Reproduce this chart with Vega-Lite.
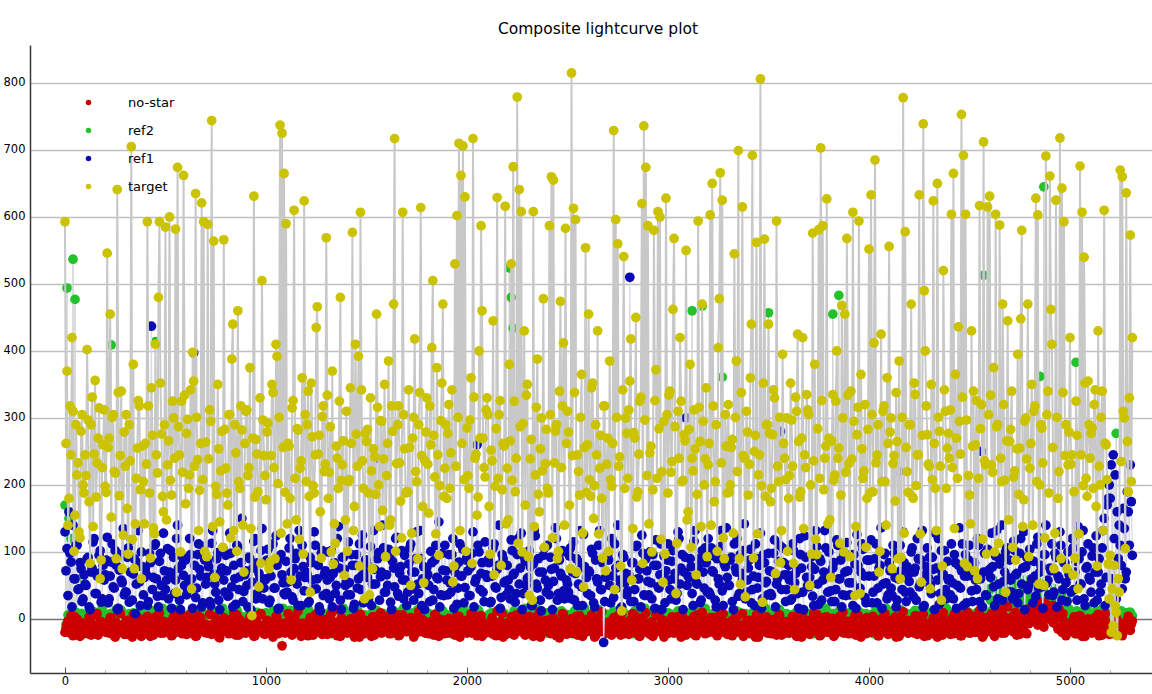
{
  "$schema": "https://vega.github.io/schema/vega-lite/v6.json",
  "width": 1122,
  "height": 628,
  "autosize": {"type": "none"},
  "padding": {"left": 30, "top": 45, "right": 0, "bottom": 21},
  "background": "white",
  "title": {"text": "Composite lightcurve plot", "font": "DejaVu Sans", "fontSize": 15.5, "fontWeight": "normal", "color": "#000", "offset": 8, "dx": 7},
  "data": {"values": [
{"x":0,"n":-20,"g":170,"b":130,"t":593},{"x":10,"n":-8,"g":494,"b":105,"t":370},{"x":20,"n":-15,"g":150,"b":160,"t":180},{"x":30,"n":5,"g":120,"b":85,"t":245},{"x":40,"n":-25,"g":537,"b":140,"t":310},{"x":50,"n":-12,"g":477,"b":60,"t":155},{"x":60,"n":0,"g":60,"b":110,"t":215},{"x":70,"n":-18,"g":5,"b":45,"t":130},{"x":80,"n":-6,"g":8,"b":75,"t":280},{"x":90,"n":-22,"g":-5,"b":30,"t":200},
{"x":100,"n":-10,"g":-3,"b":52,"t":245},{"x":110,"n":-17,"g":-3,"b":90,"t":402},{"x":120,"n":3,"g":5,"b":18,"t":175},{"x":130,"n":-24,"g":6,"b":70,"t":290},{"x":140,"n":-9,"g":-10,"b":115,"t":138},{"x":150,"n":-14,"g":10,"b":38,"t":356},{"x":160,"n":8,"g":2,"b":64,"t":233},{"x":170,"n":-19,"g":-1,"b":95,"t":315},{"x":180,"n":-4,"g":-6,"b":25,"t":88},{"x":190,"n":-12,"g":3,"b":80,"t":260},
{"x":200,"n":-16,"g":5,"b":66,"t":198},{"x":210,"n":-6,"g":0,"b":122,"t":546},{"x":220,"n":-21,"g":7,"b":30,"t":270},{"x":230,"n":2,"g":409,"b":85,"t":152},{"x":240,"n":-13,"g":-5,"b":48,"t":305},{"x":250,"n":-27,"g":-8,"b":102,"t":218},{"x":260,"n":-8,"g":0,"b":14,"t":641},{"x":270,"n":10,"g":3,"b":73,"t":184},{"x":280,"n":-18,"g":13,"b":58,"t":340},{"x":290,"n":-11,"g":-4,"b":135,"t":125},
{"x":300,"n":-9,"g":-2,"b":40,"t":228},{"x":310,"n":-23,"g":1,"b":92,"t":165},{"x":320,"n":-4,"g":8,"b":25,"t":290},{"x":330,"n":-15,"g":-12,"b":118,"t":705},{"x":340,"n":7,"g":9,"b":67,"t":380},{"x":350,"n":-19,"g":4,"b":8,"t":142},{"x":360,"n":-12,"g":-4,"b":84,"t":255},{"x":370,"n":1,"g":-7,"b":55,"t":318},{"x":380,"n":-26,"g":4,"b":100,"t":60},{"x":390,"n":-7,"g":2,"b":36,"t":205},
{"x":400,"n":-14,"g":-2,"b":75,"t":262},{"x":410,"n":4,"g":-6,"b":20,"t":593},{"x":420,"n":-20,"g":6,"b":98,"t":188},{"x":430,"n":-8,"g":0,"b":437,"t":345},{"x":440,"n":-24,"g":9,"b":62,"t":136},{"x":450,"n":-2,"g":414,"b":112,"t":410},{"x":460,"n":-16,"g":-4,"b":34,"t":218},{"x":470,"n":9,"g":2,"b":86,"t":593},{"x":480,"n":-11,"g":6,"b":50,"t":276},{"x":490,"n":-21,"g":-10,"b":128,"t":160},
{"x":500,"n":-5,"g":7,"b":44,"t":585},{"x":510,"n":-18,"g":3,"b":105,"t":230},{"x":520,"n":-10,"g":-8,"b":70,"t":600},{"x":530,"n":-25,"g":-1,"b":16,"t":185},{"x":540,"n":3,"g":11,"b":92,"t":300},{"x":550,"n":-13,"g":-3,"b":58,"t":582},{"x":560,"n":-7,"g":8,"b":140,"t":674},{"x":570,"n":-20,"g":3,"b":28,"t":245},{"x":580,"n":6,"g":-11,"b":80,"t":325},{"x":590,"n":-15,"g":5,"b":65,"t":662},
{"x":600,"n":-12,"g":0,"b":88,"t":172},{"x":610,"n":-22,"g":0,"b":42,"t":298},{"x":620,"n":-1,"g":7,"b":120,"t":215},{"x":630,"n":-17,"g":-9,"b":60,"t":45},{"x":640,"n":-9,"g":5,"b":397,"t":355},{"x":650,"n":-26,"g":-4,"b":32,"t":635},{"x":660,"n":5,"g":-4,"b":96,"t":238},{"x":670,"n":-14,"g":12,"b":74,"t":192},{"x":680,"n":-6,"g":3,"b":18,"t":621},{"x":690,"n":-19,"g":-2,"b":108,"t":593},
{"x":700,"n":-8,"g":1,"b":52,"t":264},{"x":710,"n":-15,"g":-7,"b":85,"t":589},{"x":720,"n":7,"g":9,"b":26,"t":312},{"x":730,"n":-23,"g":8,"b":113,"t":744},{"x":740,"n":-11,"g":1,"b":67,"t":564},{"x":750,"n":-3,"g":-12,"b":40,"t":198},{"x":760,"n":-18,"g":3,"b":99,"t":350},{"x":770,"n":-28,"g":6,"b":14,"t":145},{"x":780,"n":-6,"g":-3,"b":76,"t":280},{"x":790,"n":2,"g":-2,"b":58,"t":566},
{"x":800,"n":-13,"g":4,"b":95,"t":225},{"x":810,"n":-20,"g":6,"b":34,"t":170},{"x":820,"n":-4,"g":-5,"b":128,"t":305},{"x":830,"n":-16,"g":-1,"b":48,"t":388},{"x":840,"n":8,"g":8,"b":80,"t":132},{"x":850,"n":-24,"g":-9,"b":22,"t":248},{"x":860,"n":-10,"g":10,"b":107,"t":460},{"x":870,"n":-1,"g":2,"b":63,"t":195},{"x":880,"n":-18,"g":2,"b":150,"t":282},{"x":890,"n":-7,"g":-5,"b":41,"t":70},
{"x":900,"n":-21,"g":-6,"b":72,"t":310},{"x":910,"n":-9,"g":-4,"b":18,"t":214},{"x":920,"n":3,"g":9,"b":90,"t":375},{"x":930,"n":-14,"g":3,"b":55,"t":5},{"x":940,"n":-26,"g":-10,"b":116,"t":631},{"x":950,"n":-5,"g":1,"b":30,"t":268},{"x":960,"n":-17,"g":7,"b":84,"t":190},{"x":970,"n":6,"g":5,"b":62,"t":330},{"x":980,"n":-12,"g":-3,"b":135,"t":505},{"x":990,"n":-22,"g":-2,"b":46,"t":244},
{"x":1000,"n":-11,"g":9,"b":60,"t":178},{"x":1010,"n":-3,"g":-4,"b":104,"t":292},{"x":1020,"n":-19,"g":4,"b":28,"t":85},{"x":1030,"n":-8,"g":5,"b":82,"t":350},{"x":1040,"n":-15,"g":12,"b":46,"t":226},{"x":1050,"n":4,"g":-8,"b":124,"t":410},{"x":1060,"n":-22,"g":-3,"b":15,"t":202},{"x":1070,"n":-13,"g":2,"b":90,"t":737},{"x":1080,"n":-40,"g":0,"b":66,"t":725},{"x":1090,"n":-6,"g":6,"b":38,"t":665},
{"x":1100,"n":-16,"g":0,"b":86,"t":590},{"x":1110,"n":8,"g":-1,"b":55,"t":262},{"x":1120,"n":-10,"g":13,"b":120,"t":180},{"x":1130,"n":-24,"g":-6,"b":33,"t":315},{"x":1140,"n":-2,"g":7,"b":75,"t":610},{"x":1150,"n":-18,"g":3,"b":98,"t":148},{"x":1160,"n":12,"g":20,"b":20,"t":282},{"x":1170,"n":-7,"g":-2,"b":64,"t":225},{"x":1180,"n":-20,"g":-5,"b":110,"t":360},{"x":1190,"n":-12,"g":9,"b":42,"t":624},
{"x":1200,"n":-9,"g":-3,"b":70,"t":205},{"x":1210,"n":-25,"g":15,"b":24,"t":340},{"x":1220,"n":2,"g":5,"b":92,"t":40},{"x":1230,"n":-14,"g":-9,"b":58,"t":272},{"x":1240,"n":-5,"g":1,"b":130,"t":188},{"x":1250,"n":-19,"g":8,"b":45,"t":435},{"x":1260,"n":10,"g":-4,"b":80,"t":246},{"x":1270,"n":-11,"g":7,"b":12,"t":160},{"x":1280,"n":-23,"g":3,"b":102,"t":302},{"x":1290,"n":-1,"g":-4,"b":66,"t":220},
{"x":1300,"n":-17,"g":-3,"b":38,"t":569},{"x":1310,"n":-6,"g":2,"b":100,"t":180},{"x":1320,"n":5,"g":11,"b":62,"t":287},{"x":1330,"n":-21,"g":2,"b":18,"t":370},{"x":1340,"n":-12,"g":-2,"b":84,"t":142},{"x":1350,"n":14,"g":-7,"b":50,"t":258},{"x":1360,"n":-8,"g":6,"b":138,"t":195},{"x":1370,"n":-26,"g":9,"b":28,"t":480},{"x":1380,"n":-3,"g":4,"b":92,"t":230},{"x":1390,"n":-15,"g":0,"b":74,"t":65},
{"x":1400,"n":-10,"g":8,"b":56,"t":310},{"x":1410,"n":-20,"g":-5,"b":115,"t":205},{"x":1420,"n":0,"g":3,"b":36,"t":345},{"x":1430,"n":-13,"g":-4,"b":80,"t":577},{"x":1440,"n":-27,"g":10,"b":22,"t":168},{"x":1450,"n":-4,"g":1,"b":96,"t":276},{"x":1460,"n":-16,"g":-1,"b":60,"t":392},{"x":1470,"n":7,"g":-8,"b":44,"t":607},{"x":1480,"n":-9,"g":5,"b":125,"t":236},{"x":1490,"n":-22,"g":6,"b":70,"t":30},
{"x":1500,"n":-6,"g":1,"b":88,"t":265},{"x":1510,"n":-18,"g":4,"b":30,"t":188},{"x":1520,"n":-11,"g":-6,"b":108,"t":330},{"x":1530,"n":3,"g":8,"b":52,"t":75},{"x":1540,"n":-24,"g":-5,"b":74,"t":242},{"x":1550,"n":-8,"g":13,"b":240,"t":455},{"x":1560,"n":-15,"g":-2,"b":99,"t":200},{"x":1570,"n":9,"g":-2,"b":63,"t":296},{"x":1580,"n":-20,"g":7,"b":140,"t":162},{"x":1590,"n":-2,"g":4,"b":40,"t":350},
{"x":1600,"n":-14,"g":2,"b":66,"t":214},{"x":1610,"n":5,"g":-1,"b":104,"t":385},{"x":1620,"n":-21,"g":7,"b":25,"t":148},{"x":1630,"n":-9,"g":-4,"b":86,"t":280},{"x":1640,"n":-3,"g":9,"b":48,"t":717},{"x":1650,"n":-17,"g":2,"b":122,"t":232},{"x":1660,"n":-25,"g":5,"b":34,"t":318},{"x":1670,"n":-7,"g":11,"b":78,"t":176},{"x":1680,"n":6,"g":-9,"b":58,"t":607},{"x":1690,"n":-12,"g":-4,"b":95,"t":254},
{"x":1700,"n":-19,"g":3,"b":20,"t":190},{"x":1710,"n":-10,"g":7,"b":82,"t":342},{"x":1720,"n":2,"g":-3,"b":112,"t":50},{"x":1730,"n":-15,"g":9,"b":45,"t":270},{"x":1740,"n":-23,"g":-3,"b":70,"t":418},{"x":1750,"n":-6,"g":0,"b":130,"t":205},{"x":1760,"n":11,"g":0,"b":38,"t":290},{"x":1770,"n":-13,"g":14,"b":90,"t":614},{"x":1780,"n":-1,"g":6,"b":60,"t":168},{"x":1790,"n":-20,"g":-7,"b":14,"t":236},
{"x":1800,"n":-8,"g":-5,"b":76,"t":330},{"x":1810,"n":-22,"g":8,"b":50,"t":158},{"x":1820,"n":-4,"g":3,"b":101,"t":260},{"x":1830,"n":-16,"g":1,"b":28,"t":505},{"x":1840,"n":7,"g":-6,"b":88,"t":212},{"x":1850,"n":-11,"g":6,"b":62,"t":375},{"x":1860,"n":-26,"g":8,"b":145,"t":95},{"x":1870,"n":-2,"g":-2,"b":36,"t":296},{"x":1880,"n":-18,"g":12,"b":73,"t":470},{"x":1890,"n":-9,"g":1,"b":110,"t":225},
{"x":1900,"n":-13,"g":6,"b":58,"t":180},{"x":1910,"n":1,"g":4,"b":96,"t":320},{"x":1920,"n":-20,"g":-5,"b":40,"t":248},{"x":1930,"n":-7,"g":-3,"b":120,"t":55},{"x":1940,"n":-24,"g":10,"b":70,"t":530},{"x":1950,"n":-15,"g":9,"b":22,"t":602},{"x":1960,"n":4,"g":-1,"b":85,"t":710},{"x":1970,"n":-10,"g":2,"b":64,"t":662},{"x":1980,"n":-17,"g":4,"b":104,"t":706},{"x":1990,"n":-5,"g":7,"b":47,"t":630},
{"x":2000,"n":-21,"g":-1,"b":92,"t":285},{"x":2010,"n":-9,"g":2,"b":35,"t":195},{"x":2020,"n":8,"g":5,"b":78,"t":360},{"x":2030,"n":-14,"g":8,"b":130,"t":717},{"x":2040,"n":-3,"g":-8,"b":55,"t":240},{"x":2050,"n":-25,"g":1,"b":260,"t":155},{"x":2060,"n":-11,"g":11,"b":100,"t":400},{"x":2070,"n":5,"g":4,"b":68,"t":587},{"x":2080,"n":-18,"g":-4,"b":40,"t":270},{"x":2090,"n":-7,"g":-4,"b":115,"t":212},
{"x":2100,"n":-12,"g":3,"b":62,"t":330},{"x":2110,"n":-19,"g":7,"b":84,"t":168},{"x":2120,"n":-2,"g":9,"b":26,"t":252},{"x":2130,"n":-23,"g":-2,"b":106,"t":445},{"x":2140,"n":-8,"g":-2,"b":48,"t":198},{"x":2150,"n":12,"g":6,"b":74,"t":629},{"x":2160,"n":-15,"g":5,"b":140,"t":305},{"x":2170,"n":-5,"g":13,"b":32,"t":80},{"x":2180,"n":-27,"g":9,"b":90,"t":262},{"x":2190,"n":-10,"g":0,"b":56,"t":616},
{"x":2200,"n":-6,"g":-3,"b":80,"t":225},{"x":2210,"n":-16,"g":524,"b":44,"t":380},{"x":2220,"n":3,"g":480,"b":118,"t":530},{"x":2230,"n":-21,"g":434,"b":66,"t":675},{"x":2240,"n":-11,"g":5,"b":25,"t":190},{"x":2250,"n":-1,"g":6,"b":96,"t":779},{"x":2260,"n":-18,"g":1,"b":52,"t":641},{"x":2270,"n":9,"g":-3,"b":128,"t":608},{"x":2280,"n":-13,"g":7,"b":38,"t":292},{"x":2290,"n":-24,"g":-5,"b":86,"t":170},
{"x":2300,"n":-9,"g":3,"b":60,"t":350},{"x":2310,"n":4,"g":2,"b":102,"t":35},{"x":2320,"n":-17,"g":10,"b":20,"t":268},{"x":2330,"n":-26,"g":8,"b":82,"t":608},{"x":2340,"n":-5,"g":-6,"b":124,"t":215},{"x":2350,"n":-14,"g":-1,"b":46,"t":388},{"x":2360,"n":10,"g":1,"b":70,"t":160},{"x":2370,"n":-20,"g":7,"b":12,"t":300},{"x":2380,"n":-3,"g":-4,"b":95,"t":478},{"x":2390,"n":-12,"g":4,"b":58,"t":232},
{"x":2400,"n":-15,"g":9,"b":110,"t":195},{"x":2410,"n":-7,"g":9,"b":36,"t":587},{"x":2420,"n":-22,"g":4,"b":74,"t":660},{"x":2430,"n":2,"g":1,"b":56,"t":655},{"x":2440,"n":-10,"g":-5,"b":136,"t":280},{"x":2450,"n":-19,"g":5,"b":28,"t":90},{"x":2460,"n":-28,"g":-3,"b":88,"t":340},{"x":2470,"n":-4,"g":12,"b":64,"t":226},{"x":2480,"n":7,"g":2,"b":42,"t":412},{"x":2490,"n":-16,"g":-1,"b":100,"t":583},
{"x":2500,"n":-11,"g":6,"b":52,"t":310},{"x":2510,"n":-21,"g":6,"b":94,"t":170},{"x":2520,"n":0,"g":-2,"b":30,"t":815},{"x":2530,"n":-14,"g":-4,"b":115,"t":613},{"x":2540,"n":-6,"g":10,"b":68,"t":596},{"x":2550,"n":-24,"g":-5,"b":20,"t":245},{"x":2560,"n":5,"g":3,"b":84,"t":185},{"x":2570,"n":-17,"g":3,"b":48,"t":365},{"x":2580,"n":-9,"g":14,"b":126,"t":48},{"x":2590,"n":-1,"g":8,"b":74,"t":554},
{"x":2600,"n":-18,"g":0,"b":38,"t":260},{"x":2610,"n":-8,"g":1,"b":70,"t":208},{"x":2620,"n":6,"g":8,"b":104,"t":345},{"x":2630,"n":-13,"g":9,"b":24,"t":150},{"x":2640,"n":-25,"g":-7,"b":88,"t":290},{"x":2650,"n":-3,"g":2,"b":55,"t":430},{"x":2660,"n":-16,"g":4,"b":132,"t":225},{"x":2670,"n":11,"g":11,"b":44,"t":180},{"x":2680,"n":-10,"g":-3,"b":-35,"t":318},{"x":2690,"n":-20,"g":0,"b":62,"t":72},
{"x":2700,"n":-5,"g":7,"b":96,"t":270},{"x":2710,"n":-15,"g":5,"b":50,"t":385},{"x":2720,"n":-24,"g":-4,"b":120,"t":198},{"x":2730,"n":2,"g":12,"b":32,"t":729},{"x":2740,"n":-11,"g":3,"b":76,"t":596},{"x":2750,"n":-19,"g":-1,"b":140,"t":560},{"x":2760,"n":-7,"g":-5,"b":58,"t":242},{"x":2770,"n":8,"g":3,"b":18,"t":12},{"x":2780,"n":-22,"g":9,"b":92,"t":541},{"x":2790,"n":-13,"g":6,"b":68,"t":300},
{"x":2800,"n":-14,"g":4,"b":42,"t":210},{"x":2810,"n":-2,"g":5,"b":510,"t":355},{"x":2820,"n":-20,"g":7,"b":84,"t":58},{"x":2830,"n":-9,"g":-2,"b":26,"t":278},{"x":2840,"n":4,"g":-3,"b":108,"t":450},{"x":2850,"n":-17,"g":11,"b":60,"t":190},{"x":2860,"n":-26,"g":8,"b":74,"t":325},{"x":2870,"n":-6,"g":1,"b":125,"t":620},{"x":2880,"n":-12,"g":1,"b":36,"t":736},{"x":2890,"n":9,"g":8,"b":90,"t":674},
{"x":2900,"n":-10,"g":-5,"b":56,"t":587},{"x":2910,"n":-23,"g":2,"b":100,"t":248},{"x":2920,"n":-4,"g":4,"b":30,"t":100},{"x":2930,"n":-16,"g":13,"b":80,"t":580},{"x":2940,"n":7,"g":-3,"b":118,"t":372},{"x":2950,"n":-12,"g":-6,"b":48,"t":608},{"x":2960,"n":-19,"g":6,"b":66,"t":600},{"x":2970,"n":-1,"g":9,"b":14,"t":220},{"x":2980,"n":-27,"g":0,"b":94,"t":295},{"x":2990,"n":-8,"g":2,"b":72,"t":628},
{"x":3000,"n":-15,"g":9,"b":112,"t":188},{"x":3010,"n":-6,"g":8,"b":44,"t":340},{"x":3020,"n":3,"g":-1,"b":86,"t":235},{"x":3030,"n":-21,"g":1,"b":60,"t":568},{"x":3040,"n":-13,"g":4,"b":28,"t":38},{"x":3050,"n":-3,"g":12,"b":130,"t":310},{"x":3060,"n":-18,"g":5,"b":52,"t":420},{"x":3070,"n":6,"g":-4,"b":96,"t":205},{"x":3080,"n":-10,"g":-4,"b":70,"t":275},{"x":3090,"n":-24,"g":2,"b":300,"t":550},
{"x":3100,"n":-7,"g":-2,"b":64,"t":160},{"x":3110,"n":-19,"g":9,"b":90,"t":380},{"x":3120,"n":-12,"g":460,"b":38,"t":240},{"x":3130,"n":4,"g":6,"b":116,"t":312},{"x":3140,"n":-25,"g":10,"b":54,"t":66},{"x":3150,"n":-9,"g":1,"b":78,"t":594},{"x":3160,"n":-16,"g":5,"b":24,"t":265},{"x":3170,"n":10,"g":467,"b":102,"t":470},{"x":3180,"n":-4,"g":3,"b":46,"t":200},{"x":3190,"n":-21,"g":3,"b":84,"t":345},
{"x":3200,"n":-11,"g":7,"b":120,"t":230},{"x":3210,"n":2,"g":7,"b":36,"t":603},{"x":3220,"n":-18,"g":-3,"b":72,"t":650},{"x":3230,"n":-8,"g":-3,"b":94,"t":175},{"x":3240,"n":-23,"g":11,"b":18,"t":290},{"x":3250,"n":-14,"g":5,"b":60,"t":405},{"x":3260,"n":7,"g":0,"b":108,"t":666},{"x":3270,"n":-2,"g":361,"b":42,"t":625},{"x":3280,"n":-20,"g":-5,"b":82,"t":90},{"x":3290,"n":-12,"g":4,"b":136,"t":258},
{"x":3300,"n":-16,"g":-1,"b":50,"t":320},{"x":3310,"n":-5,"g":3,"b":88,"t":200},{"x":3320,"n":-25,"g":6,"b":26,"t":268},{"x":3330,"n":1,"g":9,"b":112,"t":545},{"x":3340,"n":-13,"g":12,"b":70,"t":385},{"x":3350,"n":-9,"g":1,"b":34,"t":699},{"x":3360,"n":-20,"g":1,"b":96,"t":52},{"x":3370,"n":8,"g":8,"b":58,"t":615},{"x":3380,"n":-14,"g":6,"b":142,"t":240},{"x":3390,"n":-3,"g":-3,"b":40,"t":310},
{"x":3400,"n":-9,"g":3,"b":76,"t":185},{"x":3410,"n":-22,"g":5,"b":104,"t":360},{"x":3420,"n":-3,"g":9,"b":44,"t":692},{"x":3430,"n":-15,"g":-4,"b":20,"t":250},{"x":3440,"n":6,"g":-2,"b":90,"t":562},{"x":3450,"n":-27,"g":0,"b":62,"t":215},{"x":3460,"n":-11,"g":8,"b":128,"t":806},{"x":3470,"n":-6,"g":13,"b":30,"t":25},{"x":3480,"n":-17,"g":-3,"b":84,"t":567},{"x":3490,"n":3,"g":-3,"b":56,"t":290},
{"x":3500,"n":-13,"g":457,"b":98,"t":440},{"x":3510,"n":-1,"g":5,"b":38,"t":175},{"x":3520,"n":-19,"g":-2,"b":70,"t":275},{"x":3530,"n":-7,"g":12,"b":118,"t":330},{"x":3540,"n":-24,"g":2,"b":52,"t":594},{"x":3550,"n":5,"g":2,"b":86,"t":205},{"x":3560,"n":-16,"g":-5,"b":280,"t":84},{"x":3570,"n":-10,"g":-5,"b":106,"t":395},{"x":3580,"n":-21,"g":7,"b":66,"t":240},{"x":3590,"n":-4,"g":8,"b":44,"t":300},
{"x":3600,"n":-18,"g":0,"b":80,"t":180},{"x":3610,"n":-8,"g":1,"b":28,"t":352},{"x":3620,"n":4,"g":4,"b":112,"t":228},{"x":3630,"n":-14,"g":8,"b":54,"t":44},{"x":3640,"n":-26,"g":10,"b":72,"t":310},{"x":3650,"n":-2,"g":-3,"b":16,"t":265},{"x":3660,"n":-12,"g":-3,"b":96,"t":190},{"x":3670,"n":9,"g":6,"b":40,"t":420},{"x":3680,"n":-20,"g":4,"b":124,"t":245},{"x":3690,"n":-6,"g":1,"b":62,"t":335},
{"x":3700,"n":-11,"g":-5,"b":48,"t":305},{"x":3710,"n":-21,"g":8,"b":92,"t":200},{"x":3720,"n":-5,"g":5,"b":34,"t":576},{"x":3730,"n":-16,"g":3,"b":74,"t":380},{"x":3740,"n":7,"g":-4,"b":108,"t":96},{"x":3750,"n":-9,"g":-1,"b":22,"t":581},{"x":3760,"n":-24,"g":11,"b":86,"t":703},{"x":3770,"n":-1,"g":7,"b":58,"t":587},{"x":3780,"n":-14,"g":-3,"b":132,"t":240},{"x":3790,"n":3,"g":-4,"b":68,"t":627},
{"x":3800,"n":-7,"g":9,"b":100,"t":270},{"x":3810,"n":-17,"g":2,"b":42,"t":62},{"x":3820,"n":1,"g":455,"b":76,"t":335},{"x":3830,"n":-23,"g":7,"b":26,"t":215},{"x":3840,"n":-12,"g":6,"b":118,"t":400},{"x":3850,"n":-4,"g":483,"b":60,"t":255},{"x":3860,"n":-19,"g":13,"b":88,"t":185},{"x":3870,"n":10,"g":2,"b":36,"t":300},{"x":3880,"n":-8,"g":4,"b":70,"t":455},{"x":3890,"n":-15,"g":-4,"b":114,"t":568},
{"x":3900,"n":-22,"g":9,"b":54,"t":232},{"x":3910,"n":-3,"g":4,"b":96,"t":340},{"x":3920,"n":-13,"g":1,"b":20,"t":607},{"x":3930,"n":6,"g":-5,"b":82,"t":35},{"x":3940,"n":-18,"g":14,"b":126,"t":275},{"x":3950,"n":-9,"g":1,"b":46,"t":594},{"x":3960,"n":-27,"g":5,"b":70,"t":365},{"x":3970,"n":-5,"g":-2,"b":104,"t":210},{"x":3980,"n":-16,"g":7,"b":32,"t":320},{"x":3990,"n":2,"g":3,"b":88,"t":180},
{"x":4000,"n":-10,"g":-3,"b":64,"t":552},{"x":4010,"n":-19,"g":6,"b":118,"t":633},{"x":4020,"n":4,"g":3,"b":40,"t":190},{"x":4030,"n":-14,"g":11,"b":90,"t":685},{"x":4040,"n":-6,"g":0,"b":24,"t":245},{"x":4050,"n":-25,"g":-5,"b":76,"t":70},{"x":4060,"n":-1,"g":4,"b":136,"t":425},{"x":4070,"n":-17,"g":8,"b":52,"t":310},{"x":4080,"n":8,"g":8,"b":98,"t":205},{"x":4090,"n":-12,"g":-1,"b":30,"t":360},
{"x":4100,"n":-15,"g":5,"b":84,"t":556},{"x":4110,"n":-4,"g":2,"b":46,"t":300},{"x":4120,"n":-21,"g":12,"b":110,"t":232},{"x":4130,"n":3,"g":-4,"b":62,"t":176},{"x":4140,"n":-11,"g":5,"b":28,"t":265},{"x":4150,"n":-26,"g":2,"b":220,"t":385},{"x":4160,"n":-8,"g":-1,"b":72,"t":92},{"x":4170,"n":11,"g":10,"b":130,"t":778},{"x":4180,"n":-18,"g":9,"b":40,"t":578},{"x":4190,"n":-2,"g":1,"b":78,"t":220},
{"x":4200,"n":-20,"g":6,"b":56,"t":290},{"x":4210,"n":-9,"g":8,"b":100,"t":470},{"x":4220,"n":-14,"g":-1,"b":34,"t":180},{"x":4230,"n":5,"g":13,"b":76,"t":335},{"x":4240,"n":-23,"g":3,"b":120,"t":245},{"x":4250,"n":-5,"g":3,"b":48,"t":633},{"x":4260,"n":-16,"g":-4,"b":88,"t":55},{"x":4270,"n":7,"g":9,"b":18,"t":739},{"x":4280,"n":-11,"g":6,"b":66,"t":400},{"x":4290,"n":-25,"g":0,"b":106,"t":275},
{"x":4300,"n":-7,"g":-5,"b":92,"t":228},{"x":4310,"n":-18,"g":10,"b":38,"t":350},{"x":4320,"n":2,"g":4,"b":74,"t":624},{"x":4330,"n":-13,"g":4,"b":128,"t":195},{"x":4340,"n":-27,"g":-2,"b":58,"t":650},{"x":4350,"n":-4,"g":12,"b":22,"t":280},{"x":4360,"n":-15,"g":7,"b":102,"t":28},{"x":4370,"n":9,"g":1,"b":66,"t":520},{"x":4380,"n":-20,"g":7,"b":44,"t":310},{"x":4390,"n":-10,"g":1,"b":86,"t":255},
{"x":4400,"n":-12,"g":3,"b":60,"t":240},{"x":4410,"n":0,"g":6,"b":112,"t":604},{"x":4420,"n":-22,"g":8,"b":30,"t":665},{"x":4430,"n":-8,"g":-3,"b":84,"t":365},{"x":4440,"n":-17,"g":14,"b":50,"t":210},{"x":4450,"n":6,"g":3,"b":136,"t":295},{"x":4460,"n":-25,"g":0,"b":72,"t":753},{"x":4470,"n":-3,"g":5,"b":20,"t":692},{"x":4480,"n":-14,"g":8,"b":96,"t":604},{"x":4490,"n":10,"g":11,"b":64,"t":78},
{"x":4500,"n":-5,"g":-1,"b":110,"t":185},{"x":4510,"n":-16,"g":7,"b":42,"t":430},{"x":4520,"n":4,"g":7,"b":80,"t":340},{"x":4530,"n":-20,"g":2,"b":58,"t":260},{"x":4540,"n":-9,"g":10,"b":120,"t":60},{"x":4550,"n":13,"g":-5,"b":26,"t":617},{"x":4560,"n":-12,"g":3,"b":250,"t":320},{"x":4570,"n":-24,"g":513,"b":70,"t":712},{"x":4580,"n":2,"g":5,"b":36,"t":230},{"x":4590,"n":-15,"g":-3,"b":104,"t":615},
{"x":4600,"n":-8,"g":45,"b":74,"t":631},{"x":4610,"n":8,"g":12,"b":128,"t":230},{"x":4620,"n":-18,"g":58,"b":48,"t":375},{"x":4630,"n":-3,"g":27,"b":94,"t":604},{"x":4640,"n":-13,"g":8,"b":30,"t":290},{"x":4650,"n":15,"g":38,"b":82,"t":588},{"x":4660,"n":-21,"g":52,"b":140,"t":205},{"x":4670,"n":5,"g":19,"b":56,"t":320},{"x":4680,"n":-10,"g":31,"b":100,"t":40},{"x":4690,"n":18,"g":6,"b":62,"t":445},
{"x":4700,"n":-14,"g":22,"b":88,"t":265},{"x":4710,"n":3,"g":48,"b":40,"t":340},{"x":4720,"n":-19,"g":10,"b":116,"t":212},{"x":4730,"n":10,"g":35,"b":66,"t":88},{"x":4740,"n":-6,"g":60,"b":24,"t":395},{"x":4750,"n":-23,"g":15,"b":98,"t":255},{"x":4760,"n":7,"g":28,"b":52,"t":580},{"x":4770,"n":-11,"g":5,"b":130,"t":178},{"x":4780,"n":14,"g":42,"b":78,"t":300},{"x":4790,"n":-2,"g":18,"b":44,"t":470},
{"x":4800,"n":16,"g":30,"b":104,"t":225},{"x":4810,"n":-4,"g":12,"b":60,"t":350},{"x":4820,"n":22,"g":38,"b":86,"t":310},{"x":4830,"n":8,"g":25,"b":34,"t":628},{"x":4840,"n":-9,"g":40,"b":122,"t":603},{"x":4850,"n":25,"g":362,"b":70,"t":200},{"x":4860,"n":4,"g":18,"b":48,"t":285},{"x":4870,"n":-12,"g":645,"b":96,"t":50},{"x":4880,"n":18,"g":8,"b":140,"t":691},{"x":4890,"n":10,"g":33,"b":58,"t":340},
{"x":4900,"n":12,"g":20,"b":76,"t":661},{"x":4910,"n":20,"g":6,"b":112,"t":410},{"x":4920,"n":-6,"g":42,"b":40,"t":75},{"x":4930,"n":14,"g":15,"b":92,"t":625},{"x":4940,"n":-15,"g":28,"b":64,"t":180},{"x":4950,"n":6,"g":3,"b":130,"t":718},{"x":4960,"n":-20,"g":36,"b":28,"t":643},{"x":4970,"n":-3,"g":11,"b":84,"t":593},{"x":4980,"n":-25,"g":24,"b":54,"t":290},{"x":4990,"n":-10,"g":9,"b":100,"t":230},
{"x":5000,"n":-18,"g":-1,"b":66,"t":420},{"x":5010,"n":-8,"g":11,"b":120,"t":245},{"x":5020,"n":3,"g":7,"b":44,"t":190},{"x":5030,"n":-22,"g":383,"b":86,"t":325},{"x":5040,"n":-13,"g":3,"b":138,"t":45},{"x":5050,"n":5,"g":2,"b":52,"t":676},{"x":5060,"n":-26,"g":7,"b":100,"t":607},{"x":5070,"n":-5,"g":-5,"b":30,"t":540},{"x":5080,"n":-15,"g":15,"b":76,"t":210},{"x":5090,"n":0,"g":5,"b":112,"t":355},
{"x":5100,"n":-11,"g":-3,"b":58,"t":240},{"x":5110,"n":-21,"g":5,"b":94,"t":285},{"x":5120,"n":-4,"g":4,"b":24,"t":320},{"x":5130,"n":-16,"g":11,"b":124,"t":168},{"x":5140,"n":7,"g":9,"b":70,"t":430},{"x":5150,"n":-9,"g":2,"b":40,"t":200},{"x":5160,"n":-24,"g":1,"b":106,"t":340},{"x":5170,"n":-1,"g":8,"b":150,"t":610},{"x":5180,"n":-18,"g":-1,"b":62,"t":260},{"x":5190,"n":-6,"g":8,"b":180,"t":82},
{"x":5200,"n":-10,"g":8,"b":180,"t":95},{"x":5205,"n":-18,"g":0,"b":230,"t":-20},{"x":5210,"n":-5,"g":4,"b":60,"t":45},{"x":5215,"n":-22,"g":5,"b":245,"t":-10},{"x":5220,"n":-8,"g":-5,"b":120,"t":80},{"x":5225,"n":-15,"g":-3,"b":215,"t":20},{"x":5230,"n":2,"g":277,"b":30,"t":10},{"x":5235,"n":-20,"g":-3,"b":160,"t":-25},{"x":5240,"n":-12,"g":6,"b":90,"t":60},{"x":5250,"n":-6,"g":3,"b":110,"t":670},{"x":5260,"n":-25,"g":2,"b":45,"t":660},{"x":5270,"n":-9,"g":7,"b":135,"t":300},{"x":5280,"n":-14,"g":9,"b":70,"t":636},{"x":5290,"n":4,"g":-1,"b":160,"t":190},{"x":5300,"n":-17,"g":10,"b":230,"t":573},{"x":5310,"n":-3,"g":5,"b":95,"t":420},
{"x":5,"n":-14,"g":-8,"b":72,"t":262},{"x":15,"n":-3,"g":6,"b":35,"t":140},{"x":25,"n":-21,"g":-15,"b":98,"t":318},{"x":35,"n":-9,"g":2,"b":18,"t":420},{"x":45,"n":4,"g":-20,"b":60,"t":101},{"x":55,"n":-17,"g":10,"b":110,"t":290},{"x":65,"n":-11,"g":-4,"b":44,"t":233},{"x":75,"n":-26,"g":-12,"b":84,"t":121},{"x":85,"n":-6,"g":8,"b":26,"t":305},{"x":95,"n":-19,"g":-18,"b":66,"t":188},
{"x":105,"n":-7,"g":4,"b":50,"t":214},{"x":115,"n":-22,"g":-10,"b":92,"t":297},{"x":125,"n":-1,"g":-22,"b":14,"t":83},{"x":135,"n":-16,"g":12,"b":76,"t":331},{"x":145,"n":-12,"g":-6,"b":120,"t":246},{"x":155,"n":6,"g":-14,"b":38,"t":182},{"x":165,"n":-24,"g":0,"b":68,"t":270},{"x":175,"n":-4,"g":-18,"b":102,"t":60},{"x":185,"n":-18,"g":16,"b":30,"t":226},{"x":195,"n":-10,"g":-3,"b":58,"t":312},
{"x":205,"n":-20,"g":-12,"b":88,"t":189},{"x":215,"n":-8,"g":-2,"b":24,"t":256},{"x":225,"n":2,"g":8,"b":64,"t":455},{"x":235,"n":-13,"g":-19,"b":112,"t":301},{"x":245,"n":-25,"g":-7,"b":46,"t":220},{"x":255,"n":-5,"g":14,"b":80,"t":90},{"x":265,"n":-15,"g":-16,"b":16,"t":338},{"x":275,"n":8,"g":-5,"b":96,"t":244},{"x":285,"n":-10,"g":3,"b":54,"t":75},{"x":295,"n":-23,"g":-21,"b":36,"t":279},
{"x":305,"n":-2,"g":-8,"b":40,"t":305},{"x":315,"n":-17,"g":6,"b":106,"t":97},{"x":325,"n":-11,"g":-15,"b":70,"t":236},{"x":335,"n":-27,"g":2,"b":28,"t":119},{"x":345,"n":-6,"g":-20,"b":90,"t":75},{"x":355,"n":3,"g":10,"b":52,"t":210},{"x":365,"n":-19,"g":-4,"b":132,"t":326},{"x":375,"n":-9,"g":-12,"b":20,"t":193},{"x":385,"n":-14,"g":8,"b":78,"t":258},{"x":395,"n":-21,"g":-18,"b":62,"t":142},
{"x":405,"n":-19,"g":4,"b":66,"t":231},{"x":415,"n":-6,"g":-10,"b":26,"t":318},{"x":425,"n":-26,"g":-22,"b":84,"t":91},{"x":435,"n":-11,"g":12,"b":44,"t":274},{"x":445,"n":-17,"g":-6,"b":110,"t":127},{"x":455,"n":4,"g":-14,"b":60,"t":245},{"x":465,"n":-9,"g":0,"b":18,"t":480},{"x":475,"n":-21,"g":-18,"b":98,"t":352},{"x":485,"n":-3,"g":16,"b":35,"t":183},{"x":495,"n":-14,"g":-3,"b":72,"t":290},
{"x":505,"n":-10,"g":-12,"b":58,"t":148},{"x":515,"n":-18,"g":-2,"b":30,"t":266},{"x":525,"n":-4,"g":8,"b":102,"t":207},{"x":535,"n":-24,"g":-19,"b":68,"t":325},{"x":545,"n":6,"g":-7,"b":38,"t":240},{"x":555,"n":-12,"g":14,"b":120,"t":40},{"x":565,"n":-16,"g":-16,"b":76,"t":287},{"x":575,"n":-1,"g":-5,"b":14,"t":100},{"x":585,"n":-22,"g":3,"b":92,"t":219},{"x":595,"n":-7,"g":-21,"b":50,"t":334},
{"x":605,"n":-23,"g":-8,"b":36,"t":277},{"x":615,"n":-10,"g":6,"b":54,"t":195},{"x":625,"n":8,"g":-15,"b":96,"t":342},{"x":635,"n":-15,"g":2,"b":16,"t":398},{"x":645,"n":-5,"g":-20,"b":80,"t":228},{"x":655,"n":-25,"g":10,"b":46,"t":301},{"x":665,"n":-13,"g":-4,"b":112,"t":132},{"x":675,"n":2,"g":-12,"b":64,"t":262},{"x":685,"n":-8,"g":8,"b":24,"t":208},{"x":695,"n":-20,"g":-18,"b":88,"t":101},
{"x":705,"n":-21,"g":4,"b":62,"t":93},{"x":715,"n":-14,"g":-10,"b":78,"t":239},{"x":725,"n":-9,"g":-22,"b":20,"t":295},{"x":735,"n":-19,"g":12,"b":132,"t":138},{"x":745,"n":3,"g":-6,"b":52,"t":62},{"x":755,"n":-6,"g":-14,"b":90,"t":186},{"x":765,"n":-27,"g":0,"b":28,"t":254},{"x":775,"n":-11,"g":-18,"b":70,"t":221},{"x":785,"n":-17,"g":16,"b":106,"t":107},{"x":795,"n":-2,"g":-3,"b":40,"t":283},
{"x":805,"n":-7,"g":-12,"b":72,"t":188},{"x":815,"n":-22,"g":-2,"b":35,"t":305},{"x":825,"n":-1,"g":8,"b":98,"t":121},{"x":835,"n":-16,"g":-19,"b":18,"t":440},{"x":845,"n":-12,"g":-7,"b":60,"t":290},{"x":855,"n":6,"g":14,"b":110,"t":101},{"x":865,"n":-24,"g":-16,"b":44,"t":205},{"x":875,"n":-4,"g":-5,"b":84,"t":318},{"x":885,"n":-18,"g":3,"b":26,"t":140},{"x":895,"n":-10,"g":-21,"b":66,"t":262},
{"x":905,"n":-20,"g":-8,"b":50,"t":312},{"x":915,"n":-8,"g":6,"b":92,"t":226},{"x":925,"n":2,"g":-15,"b":14,"t":135},{"x":935,"n":-13,"g":2,"b":76,"t":270},{"x":945,"n":-25,"g":-20,"b":120,"t":182},{"x":955,"n":-5,"g":10,"b":38,"t":246},{"x":965,"n":-15,"g":-4,"b":68,"t":48},{"x":975,"n":8,"g":-12,"b":102,"t":83},{"x":985,"n":-10,"g":8,"b":30,"t":297},{"x":995,"n":-23,"g":-18,"b":58,"t":214},
{"x":1005,"n":-2,"g":4,"b":88,"t":279},{"x":1015,"n":-17,"g":-10,"b":24,"t":75},{"x":1025,"n":-11,"g":-22,"b":64,"t":244},{"x":1035,"n":-27,"g":12,"b":112,"t":338},{"x":1045,"n":-6,"g":-6,"b":46,"t":90},{"x":1055,"n":3,"g":-14,"b":80,"t":392},{"x":1065,"n":-19,"g":0,"b":16,"t":301},{"x":1075,"n":-9,"g":-18,"b":96,"t":128},{"x":1085,"n":-14,"g":16,"b":54,"t":256},{"x":1095,"n":-21,"g":-3,"b":36,"t":189},
{"x":1105,"n":-14,"g":-12,"b":40,"t":142},{"x":1115,"n":-3,"g":-2,"b":106,"t":258},{"x":1125,"n":-21,"g":8,"b":70,"t":58},{"x":1135,"n":-9,"g":-19,"b":28,"t":326},{"x":1145,"n":4,"g":-7,"b":90,"t":210},{"x":1155,"n":-17,"g":14,"b":52,"t":284},{"x":1165,"n":-11,"g":-16,"b":132,"t":119},{"x":1175,"n":-26,"g":-5,"b":20,"t":236},{"x":1185,"n":-6,"g":3,"b":78,"t":97},{"x":1195,"n":-19,"g":-21,"b":62,"t":305},
{"x":1205,"n":-10,"g":-8,"b":66,"t":290},{"x":1215,"n":-18,"g":6,"b":26,"t":183},{"x":1225,"n":-4,"g":-15,"b":84,"t":352},{"x":1235,"n":-24,"g":2,"b":44,"t":199},{"x":1245,"n":6,"g":-20,"b":110,"t":245},{"x":1255,"n":-12,"g":10,"b":60,"t":466},{"x":1265,"n":-16,"g":-4,"b":18,"t":274},{"x":1275,"n":-1,"g":-12,"b":98,"t":91},{"x":1285,"n":-22,"g":8,"b":35,"t":318},{"x":1295,"n":-7,"g":-18,"b":72,"t":231},
{"x":1305,"n":-23,"g":4,"b":58,"t":334},{"x":1315,"n":-10,"g":-10,"b":30,"t":219},{"x":1325,"n":8,"g":-22,"b":102,"t":100},{"x":1335,"n":-15,"g":12,"b":68,"t":82},{"x":1345,"n":-5,"g":-6,"b":38,"t":113},{"x":1355,"n":-25,"g":-14,"b":120,"t":240},{"x":1365,"n":-13,"g":0,"b":76,"t":325},{"x":1375,"n":2,"g":-18,"b":14,"t":207},{"x":1385,"n":-8,"g":16,"b":92,"t":266},{"x":1395,"n":-20,"g":-3,"b":50,"t":148},
{"x":1405,"n":-21,"g":-12,"b":36,"t":101},{"x":1415,"n":-14,"g":-2,"b":54,"t":208},{"x":1425,"n":-9,"g":8,"b":96,"t":262},{"x":1435,"n":-19,"g":-19,"b":16,"t":132},{"x":1445,"n":3,"g":-7,"b":80,"t":410},{"x":1455,"n":-6,"g":14,"b":46,"t":228},{"x":1465,"n":-27,"g":-16,"b":112,"t":79},{"x":1475,"n":-11,"g":-5,"b":64,"t":342},{"x":1485,"n":-17,"g":3,"b":24,"t":195},{"x":1495,"n":-2,"g":-21,"b":88,"t":277},
{"x":1505,"n":-19,"g":-8,"b":62,"t":283},{"x":1515,"n":-6,"g":6,"b":78,"t":36},{"x":1525,"n":-26,"g":-15,"b":20,"t":221},{"x":1535,"n":-11,"g":2,"b":132,"t":254},{"x":1545,"n":-17,"g":-20,"b":52,"t":186},{"x":1555,"n":4,"g":10,"b":90,"t":316},{"x":1565,"n":-9,"g":-4,"b":28,"t":138},{"x":1575,"n":-21,"g":-12,"b":70,"t":295},{"x":1585,"n":-3,"g":8,"b":106,"t":239},{"x":1595,"n":-14,"g":-18,"b":40,"t":93},
{"x":1605,"n":-7,"g":4,"b":50,"t":262},{"x":1615,"n":-22,"g":-10,"b":92,"t":140},{"x":1625,"n":-1,"g":-22,"b":14,"t":318},{"x":1635,"n":-16,"g":12,"b":76,"t":470},{"x":1645,"n":-12,"g":-6,"b":120,"t":101},{"x":1655,"n":6,"g":-14,"b":38,"t":290},{"x":1665,"n":-24,"g":0,"b":68,"t":233},{"x":1675,"n":-4,"g":-18,"b":102,"t":121},{"x":1685,"n":-18,"g":16,"b":30,"t":305},{"x":1695,"n":-10,"g":-3,"b":58,"t":188},
{"x":1705,"n":-2,"g":-12,"b":40,"t":189},{"x":1715,"n":-17,"g":-2,"b":106,"t":256},{"x":1725,"n":-11,"g":8,"b":70,"t":128},{"x":1735,"n":-27,"g":-19,"b":28,"t":301},{"x":1745,"n":-6,"g":-7,"b":90,"t":220},{"x":1755,"n":3,"g":14,"b":52,"t":90},{"x":1765,"n":-19,"g":-16,"b":132,"t":338},{"x":1775,"n":-9,"g":-5,"b":20,"t":244},{"x":1785,"n":-14,"g":3,"b":78,"t":54},{"x":1795,"n":-21,"g":-21,"b":62,"t":279},
{"x":1805,"n":-10,"g":-8,"b":66,"t":231},{"x":1815,"n":-18,"g":6,"b":26,"t":318},{"x":1825,"n":-4,"g":-15,"b":84,"t":405},{"x":1835,"n":-24,"g":2,"b":44,"t":274},{"x":1845,"n":6,"g":-20,"b":110,"t":127},{"x":1855,"n":-12,"g":10,"b":60,"t":245},{"x":1865,"n":-16,"g":-4,"b":18,"t":199},{"x":1875,"n":-1,"g":-12,"b":98,"t":352},{"x":1885,"n":-22,"g":8,"b":35,"t":183},{"x":1895,"n":-7,"g":-18,"b":72,"t":290},
{"x":1905,"n":-21,"g":4,"b":36,"t":277},{"x":1915,"n":-14,"g":-10,"b":54,"t":195},{"x":1925,"n":-9,"g":-22,"b":96,"t":342},{"x":1935,"n":-19,"g":12,"b":16,"t":79},{"x":1945,"n":3,"g":-6,"b":80,"t":228},{"x":1955,"n":-6,"g":-14,"b":46,"t":301},{"x":1965,"n":-27,"g":0,"b":112,"t":132},{"x":1975,"n":-11,"g":-18,"b":64,"t":262},{"x":1985,"n":-17,"g":16,"b":24,"t":208},{"x":1995,"n":-2,"g":-3,"b":88,"t":101},
{"x":2005,"n":-14,"g":-12,"b":72,"t":214},{"x":2015,"n":-3,"g":-2,"b":35,"t":297},{"x":2025,"n":-21,"g":8,"b":98,"t":83},{"x":2035,"n":-9,"g":-19,"b":18,"t":331},{"x":2045,"n":4,"g":-7,"b":60,"t":246},{"x":2055,"n":-17,"g":14,"b":110,"t":182},{"x":2065,"n":-11,"g":-16,"b":44,"t":270},{"x":2075,"n":-26,"g":-5,"b":84,"t":460},{"x":2085,"n":-6,"g":3,"b":26,"t":226},{"x":2095,"n":-19,"g":-21,"b":66,"t":312},
{"x":2105,"n":-20,"g":-8,"b":88,"t":305},{"x":2115,"n":-8,"g":6,"b":24,"t":97},{"x":2125,"n":2,"g":-15,"b":64,"t":236},{"x":2135,"n":-13,"g":2,"b":112,"t":66},{"x":2145,"n":-25,"g":-20,"b":46,"t":284},{"x":2155,"n":-5,"g":10,"b":80,"t":210},{"x":2165,"n":-15,"g":-4,"b":16,"t":326},{"x":2175,"n":8,"g":-12,"b":96,"t":193},{"x":2185,"n":-10,"g":8,"b":54,"t":258},{"x":2195,"n":-23,"g":-18,"b":36,"t":142},
{"x":2205,"n":-10,"g":4,"b":58,"t":148},{"x":2215,"n":-18,"g":-10,"b":30,"t":266},{"x":2225,"n":-4,"g":-22,"b":102,"t":207},{"x":2235,"n":-24,"g":12,"b":68,"t":325},{"x":2245,"n":6,"g":-6,"b":38,"t":240},{"x":2255,"n":-12,"g":-14,"b":120,"t":113},{"x":2265,"n":-16,"g":0,"b":76,"t":287},{"x":2275,"n":-1,"g":-18,"b":14,"t":100},{"x":2285,"n":-22,"g":16,"b":92,"t":430},{"x":2295,"n":-7,"g":-3,"b":50,"t":334},
{"x":2305,"n":-21,"g":-12,"b":62,"t":93},{"x":2315,"n":-14,"g":-2,"b":78,"t":239},{"x":2325,"n":-9,"g":8,"b":20,"t":28},{"x":2335,"n":-19,"g":-19,"b":132,"t":138},{"x":2345,"n":3,"g":-7,"b":52,"t":316},{"x":2355,"n":-6,"g":14,"b":90,"t":186},{"x":2365,"n":-27,"g":-16,"b":28,"t":254},{"x":2375,"n":-11,"g":-5,"b":70,"t":221},{"x":2385,"n":-17,"g":3,"b":106,"t":107},{"x":2395,"n":-2,"g":-21,"b":40,"t":283},
{"x":2405,"n":-20,"g":-8,"b":50,"t":188},{"x":2415,"n":-8,"g":6,"b":92,"t":305},{"x":2425,"n":2,"g":-15,"b":14,"t":121},{"x":2435,"n":-13,"g":2,"b":76,"t":233},{"x":2445,"n":-25,"g":-20,"b":120,"t":290},{"x":2455,"n":-5,"g":10,"b":38,"t":101},{"x":2465,"n":-15,"g":-4,"b":68,"t":474},{"x":2475,"n":8,"g":-12,"b":102,"t":318},{"x":2485,"n":-10,"g":8,"b":30,"t":140},{"x":2495,"n":-23,"g":-18,"b":58,"t":262},
{"x":2505,"n":-14,"g":4,"b":40,"t":279},{"x":2515,"n":-3,"g":-10,"b":106,"t":75},{"x":2525,"n":-21,"g":-22,"b":70,"t":244},{"x":2535,"n":-9,"g":12,"b":28,"t":338},{"x":2545,"n":4,"g":-6,"b":90,"t":70},{"x":2555,"n":-17,"g":-14,"b":52,"t":220},{"x":2565,"n":-11,"g":0,"b":132,"t":301},{"x":2575,"n":-26,"g":-18,"b":20,"t":128},{"x":2585,"n":-6,"g":16,"b":78,"t":256},{"x":2595,"n":-19,"g":-3,"b":62,"t":189},
{"x":2605,"n":-2,"g":-12,"b":72,"t":455},{"x":2615,"n":-17,"g":-2,"b":35,"t":183},{"x":2625,"n":-11,"g":8,"b":98,"t":352},{"x":2635,"n":-27,"g":-19,"b":18,"t":199},{"x":2645,"n":-6,"g":-7,"b":60,"t":245},{"x":2655,"n":3,"g":14,"b":110,"t":127},{"x":2665,"n":-19,"g":-16,"b":44,"t":274},{"x":2675,"n":-9,"g":-5,"b":84,"t":91},{"x":2685,"n":-14,"g":3,"b":26,"t":318},{"x":2695,"n":-21,"g":-21,"b":66,"t":231},
{"x":2705,"n":-7,"g":-8,"b":88,"t":101},{"x":2715,"n":-22,"g":6,"b":24,"t":208},{"x":2725,"n":-1,"g":-15,"b":64,"t":262},{"x":2735,"n":-16,"g":2,"b":112,"t":44},{"x":2745,"n":-12,"g":-20,"b":46,"t":301},{"x":2755,"n":6,"g":10,"b":80,"t":228},{"x":2765,"n":-24,"g":-4,"b":16,"t":79},{"x":2775,"n":-4,"g":-12,"b":96,"t":342},{"x":2785,"n":-18,"g":8,"b":54,"t":195},{"x":2795,"n":-10,"g":-18,"b":36,"t":277},
{"x":2805,"n":-23,"g":4,"b":66,"t":312},{"x":2815,"n":-10,"g":-10,"b":26,"t":418},{"x":2825,"n":8,"g":-22,"b":84,"t":135},{"x":2835,"n":-15,"g":12,"b":44,"t":270},{"x":2845,"n":-5,"g":-6,"b":110,"t":182},{"x":2855,"n":-25,"g":-14,"b":60,"t":246},{"x":2865,"n":-13,"g":0,"b":18,"t":331},{"x":2875,"n":2,"g":-18,"b":98,"t":83},{"x":2885,"n":-8,"g":16,"b":35,"t":297},{"x":2895,"n":-20,"g":-3,"b":72,"t":214},
{"x":2905,"n":-19,"g":-12,"b":36,"t":142},{"x":2915,"n":-6,"g":-2,"b":54,"t":258},{"x":2925,"n":-26,"g":8,"b":96,"t":193},{"x":2935,"n":-11,"g":-19,"b":16,"t":326},{"x":2945,"n":-17,"g":-7,"b":80,"t":210},{"x":2955,"n":4,"g":14,"b":46,"t":284},{"x":2965,"n":-9,"g":-16,"b":112,"t":119},{"x":2975,"n":-21,"g":-5,"b":64,"t":55},{"x":2985,"n":-3,"g":3,"b":24,"t":97},{"x":2995,"n":-14,"g":-21,"b":88,"t":305},
{"x":3005,"n":-21,"g":-8,"b":58,"t":334},{"x":3015,"n":-14,"g":6,"b":30,"t":219},{"x":3025,"n":-9,"g":-15,"b":102,"t":462},{"x":3035,"n":-19,"g":2,"b":68,"t":287},{"x":3045,"n":3,"g":-20,"b":38,"t":113},{"x":3055,"n":-6,"g":10,"b":120,"t":240},{"x":3065,"n":-27,"g":-4,"b":76,"t":325},{"x":3075,"n":-11,"g":-12,"b":14,"t":207},{"x":3085,"n":-17,"g":8,"b":92,"t":266},{"x":3095,"n":-2,"g":-18,"b":50,"t":148},
{"x":3105,"n":-10,"g":4,"b":62,"t":283},{"x":3115,"n":-18,"g":-10,"b":78,"t":107},{"x":3125,"n":-4,"g":-22,"b":20,"t":221},{"x":3135,"n":-24,"g":12,"b":132,"t":254},{"x":3145,"n":6,"g":-6,"b":52,"t":186},{"x":3155,"n":-12,"g":-14,"b":90,"t":316},{"x":3165,"n":-16,"g":0,"b":28,"t":138},{"x":3175,"n":-1,"g":-18,"b":70,"t":295},{"x":3185,"n":-22,"g":16,"b":106,"t":239},{"x":3195,"n":-7,"g":-3,"b":40,"t":93},
{"x":3205,"n":-20,"g":-12,"b":40,"t":262},{"x":3215,"n":-8,"g":-2,"b":106,"t":140},{"x":3225,"n":2,"g":8,"b":70,"t":318},{"x":3235,"n":-13,"g":-19,"b":28,"t":205},{"x":3245,"n":-25,"g":-7,"b":90,"t":101},{"x":3255,"n":-5,"g":14,"b":52,"t":478},{"x":3265,"n":-15,"g":-16,"b":132,"t":233},{"x":3275,"n":8,"g":-5,"b":20,"t":121},{"x":3285,"n":-10,"g":3,"b":78,"t":305},{"x":3295,"n":-23,"g":-21,"b":62,"t":188},
{"x":3305,"n":-14,"g":-8,"b":50,"t":189},{"x":3315,"n":-3,"g":6,"b":92,"t":256},{"x":3325,"n":-21,"g":-15,"b":14,"t":128},{"x":3335,"n":-9,"g":2,"b":76,"t":301},{"x":3345,"n":4,"g":-20,"b":120,"t":220},{"x":3355,"n":-17,"g":10,"b":38,"t":90},{"x":3365,"n":-11,"g":-4,"b":68,"t":338},{"x":3375,"n":-26,"g":-12,"b":102,"t":244},{"x":3385,"n":-6,"g":8,"b":30,"t":33},{"x":3395,"n":-19,"g":-18,"b":58,"t":279},
{"x":3405,"n":-2,"g":4,"b":88,"t":231},{"x":3415,"n":-17,"g":-10,"b":24,"t":440},{"x":3425,"n":-11,"g":-22,"b":64,"t":91},{"x":3435,"n":-27,"g":12,"b":112,"t":274},{"x":3445,"n":-6,"g":-6,"b":46,"t":127},{"x":3455,"n":3,"g":-14,"b":80,"t":245},{"x":3465,"n":-19,"g":0,"b":16,"t":199},{"x":3475,"n":-9,"g":-18,"b":96,"t":352},{"x":3485,"n":-14,"g":16,"b":54,"t":183},{"x":3495,"n":-21,"g":-3,"b":36,"t":290},
{"x":3505,"n":-7,"g":-12,"b":72,"t":277},{"x":3515,"n":-22,"g":-2,"b":35,"t":195},{"x":3525,"n":-1,"g":8,"b":98,"t":342},{"x":3535,"n":-16,"g":-19,"b":18,"t":68},{"x":3545,"n":-12,"g":-7,"b":60,"t":228},{"x":3555,"n":6,"g":14,"b":110,"t":301},{"x":3565,"n":-24,"g":-16,"b":44,"t":132},{"x":3575,"n":-4,"g":-5,"b":84,"t":262},{"x":3585,"n":-18,"g":3,"b":26,"t":208},{"x":3595,"n":-10,"g":-21,"b":66,"t":101},
{"x":3605,"n":-21,"g":-8,"b":58,"t":214},{"x":3615,"n":-14,"g":6,"b":30,"t":297},{"x":3625,"n":-9,"g":-15,"b":102,"t":83},{"x":3635,"n":-19,"g":2,"b":68,"t":331},{"x":3645,"n":3,"g":-20,"b":38,"t":425},{"x":3655,"n":-6,"g":10,"b":120,"t":182},{"x":3665,"n":-27,"g":-4,"b":76,"t":270},{"x":3675,"n":-11,"g":-12,"b":14,"t":135},{"x":3685,"n":-17,"g":8,"b":92,"t":226},{"x":3695,"n":-2,"g":-18,"b":50,"t":312},
{"x":3705,"n":-23,"g":4,"b":62,"t":50},{"x":3715,"n":-10,"g":-10,"b":78,"t":97},{"x":3725,"n":8,"g":-22,"b":20,"t":236},{"x":3735,"n":-15,"g":12,"b":132,"t":119},{"x":3745,"n":-5,"g":-6,"b":52,"t":284},{"x":3755,"n":-25,"g":-14,"b":90,"t":210},{"x":3765,"n":-13,"g":0,"b":28,"t":326},{"x":3775,"n":2,"g":-18,"b":70,"t":193},{"x":3785,"n":-8,"g":16,"b":106,"t":258},{"x":3795,"n":-20,"g":-3,"b":40,"t":142},
{"x":3805,"n":-19,"g":-12,"b":66,"t":148},{"x":3815,"n":-6,"g":-2,"b":26,"t":266},{"x":3825,"n":-26,"g":8,"b":84,"t":207},{"x":3835,"n":-11,"g":-19,"b":44,"t":325},{"x":3845,"n":-17,"g":-7,"b":110,"t":240},{"x":3855,"n":4,"g":14,"b":60,"t":113},{"x":3865,"n":-9,"g":-16,"b":18,"t":468},{"x":3875,"n":-21,"g":-5,"b":98,"t":100},{"x":3885,"n":-3,"g":3,"b":35,"t":219},{"x":3895,"n":-14,"g":-21,"b":72,"t":334},
{"x":3905,"n":-10,"g":-8,"b":36,"t":93},{"x":3915,"n":-18,"g":6,"b":54,"t":239},{"x":3925,"n":-4,"g":-15,"b":96,"t":295},{"x":3935,"n":-24,"g":2,"b":16,"t":138},{"x":3945,"n":6,"g":-20,"b":80,"t":316},{"x":3955,"n":-12,"g":10,"b":46,"t":38},{"x":3965,"n":-16,"g":-4,"b":112,"t":254},{"x":3975,"n":-1,"g":-12,"b":64,"t":221},{"x":3985,"n":-22,"g":8,"b":24,"t":107},{"x":3995,"n":-7,"g":-18,"b":88,"t":283},
{"x":4005,"n":-20,"g":4,"b":88,"t":188},{"x":4015,"n":-8,"g":-10,"b":24,"t":305},{"x":4025,"n":2,"g":-22,"b":64,"t":412},{"x":4035,"n":-13,"g":12,"b":112,"t":233},{"x":4045,"n":-25,"g":-6,"b":46,"t":290},{"x":4055,"n":-5,"g":-14,"b":80,"t":101},{"x":4065,"n":-15,"g":0,"b":16,"t":205},{"x":4075,"n":8,"g":-18,"b":96,"t":318},{"x":4085,"n":-10,"g":16,"b":54,"t":140},{"x":4095,"n":-23,"g":-3,"b":36,"t":262},
{"x":4105,"n":-2,"g":-12,"b":72,"t":279},{"x":4115,"n":-17,"g":-2,"b":35,"t":75},{"x":4125,"n":-11,"g":8,"b":98,"t":244},{"x":4135,"n":-27,"g":-19,"b":18,"t":338},{"x":4145,"n":-6,"g":-7,"b":60,"t":90},{"x":4155,"n":3,"g":14,"b":110,"t":60},{"x":4165,"n":-19,"g":-16,"b":44,"t":301},{"x":4175,"n":-9,"g":-5,"b":84,"t":128},{"x":4185,"n":-14,"g":3,"b":26,"t":256},{"x":4195,"n":-21,"g":-21,"b":66,"t":189},
{"x":4205,"n":-14,"g":-8,"b":40,"t":290},{"x":4215,"n":-3,"g":6,"b":106,"t":183},{"x":4225,"n":-21,"g":-15,"b":70,"t":352},{"x":4235,"n":-9,"g":2,"b":28,"t":199},{"x":4245,"n":4,"g":-20,"b":90,"t":245},{"x":4255,"n":-17,"g":10,"b":52,"t":127},{"x":4265,"n":-11,"g":-4,"b":132,"t":274},{"x":4275,"n":-26,"g":-12,"b":20,"t":490},{"x":4285,"n":-6,"g":8,"b":78,"t":318},{"x":4295,"n":-19,"g":-18,"b":62,"t":231},
{"x":4305,"n":-7,"g":4,"b":50,"t":45},{"x":4315,"n":-22,"g":-10,"b":92,"t":208},{"x":4325,"n":-1,"g":-22,"b":14,"t":262},{"x":4335,"n":-16,"g":12,"b":76,"t":132},{"x":4345,"n":-12,"g":-6,"b":120,"t":301},{"x":4355,"n":6,"g":-14,"b":38,"t":228},{"x":4365,"n":-24,"g":0,"b":68,"t":79},{"x":4375,"n":-4,"g":-18,"b":102,"t":342},{"x":4385,"n":-18,"g":16,"b":30,"t":195},{"x":4395,"n":-10,"g":-3,"b":58,"t":277},
{"x":4405,"n":-23,"g":-12,"b":36,"t":312},{"x":4415,"n":-10,"g":-2,"b":54,"t":226},{"x":4425,"n":8,"g":8,"b":96,"t":135},{"x":4435,"n":-15,"g":-19,"b":16,"t":270},{"x":4445,"n":-5,"g":-7,"b":80,"t":436},{"x":4455,"n":-25,"g":14,"b":46,"t":246},{"x":4465,"n":-13,"g":-16,"b":112,"t":331},{"x":4475,"n":2,"g":-5,"b":64,"t":83},{"x":4485,"n":-8,"g":3,"b":24,"t":297},{"x":4495,"n":-20,"g":-21,"b":88,"t":214},
{"x":4505,"n":-21,"g":-8,"b":66,"t":142},{"x":4515,"n":-14,"g":6,"b":26,"t":258},{"x":4525,"n":-9,"g":-15,"b":84,"t":72},{"x":4535,"n":-19,"g":2,"b":44,"t":326},{"x":4545,"n":3,"g":-20,"b":110,"t":210},{"x":4555,"n":-6,"g":10,"b":60,"t":284},{"x":4565,"n":-27,"g":-4,"b":18,"t":119},{"x":4575,"n":-11,"g":-12,"b":98,"t":236},{"x":4585,"n":-17,"g":8,"b":35,"t":97},{"x":4595,"n":-2,"g":-18,"b":72,"t":305},
{"x":4605,"n":-19,"g":28,"b":62,"t":334},{"x":4615,"n":-6,"g":45,"b":78,"t":219},{"x":4625,"n":-26,"g":12,"b":20,"t":100},{"x":4635,"n":-11,"g":50,"b":132,"t":287},{"x":4645,"n":-17,"g":33,"b":52,"t":113},{"x":4655,"n":4,"g":20,"b":90,"t":240},{"x":4665,"n":-9,"g":55,"b":28,"t":470},{"x":4675,"n":-21,"g":8,"b":70,"t":207},{"x":4685,"n":-3,"g":40,"b":106,"t":266},{"x":4695,"n":-14,"g":26,"b":40,"t":148},
{"x":4705,"n":-10,"g":38,"b":58,"t":283},{"x":4715,"n":-18,"g":15,"b":30,"t":107},{"x":4725,"n":-4,"g":52,"b":102,"t":221},{"x":4735,"n":-24,"g":22,"b":68,"t":254},{"x":4745,"n":6,"g":44,"b":38,"t":186},{"x":4755,"n":-12,"g":10,"b":120,"t":448},{"x":4765,"n":-16,"g":30,"b":76,"t":138},{"x":4775,"n":-1,"g":58,"b":14,"t":295},{"x":4785,"n":-22,"g":18,"b":92,"t":239},{"x":4795,"n":-7,"g":35,"b":50,"t":93},
{"x":4805,"n":6,"g":20,"b":88,"t":262},{"x":4815,"n":18,"g":42,"b":24,"t":140},{"x":4825,"n":-4,"g":8,"b":64,"t":318},{"x":4835,"n":12,"g":33,"b":112,"t":205},{"x":4845,"n":22,"g":55,"b":46,"t":52},{"x":4855,"n":-2,"g":16,"b":80,"t":290},{"x":4865,"n":14,"g":27,"b":16,"t":233},{"x":4875,"n":24,"g":48,"b":96,"t":121},{"x":4885,"n":0,"g":12,"b":54,"t":305},{"x":4895,"n":16,"g":36,"b":36,"t":188},
{"x":4905,"n":10,"g":30,"b":72,"t":462},{"x":4915,"n":-5,"g":12,"b":35,"t":256},{"x":4925,"n":20,"g":45,"b":98,"t":128},{"x":4935,"n":2,"g":6,"b":18,"t":301},{"x":4945,"n":15,"g":25,"b":60,"t":220},{"x":4955,"n":-12,"g":38,"b":110,"t":90},{"x":4965,"n":8,"g":18,"b":44,"t":338},{"x":4975,"n":-8,"g":10,"b":84,"t":244},{"x":4985,"n":-18,"g":28,"b":26,"t":75},{"x":4995,"n":-14,"g":15,"b":66,"t":279},
{"x":5005,"n":-14,"g":4,"b":40,"t":231},{"x":5015,"n":-3,"g":-10,"b":106,"t":66},{"x":5025,"n":-21,"g":-22,"b":70,"t":91},{"x":5035,"n":-9,"g":12,"b":28,"t":274},{"x":5045,"n":4,"g":-6,"b":90,"t":127},{"x":5055,"n":-17,"g":-14,"b":52,"t":245},{"x":5065,"n":-11,"g":0,"b":132,"t":199},{"x":5075,"n":-26,"g":-18,"b":20,"t":352},{"x":5085,"n":-6,"g":16,"b":78,"t":183},{"x":5095,"n":-19,"g":-3,"b":62,"t":290},
{"x":5105,"n":-20,"g":-12,"b":40,"t":277},{"x":5115,"n":-8,"g":-2,"b":106,"t":195},{"x":5125,"n":2,"g":8,"b":70,"t":342},{"x":5135,"n":-13,"g":-19,"b":28,"t":79},{"x":5145,"n":-25,"g":-7,"b":90,"t":228},{"x":5155,"n":-5,"g":14,"b":52,"t":301},{"x":5165,"n":-15,"g":-16,"b":132,"t":132},{"x":5175,"n":8,"g":-5,"b":20,"t":262},{"x":5185,"n":-10,"g":3,"b":170,"t":208},{"x":5195,"n":-23,"g":-21,"b":200,"t":30},
{"x":5245,"n":-16,"g":4,"b":140,"t":40},{"x":5255,"n":-7,"g":12,"b":80,"t":235},{"x":5265,"n":-20,"g":-4,"b":165,"t":310},{"x":5275,"n":-11,"g":8,"b":60,"t":105},{"x":5285,"n":-2,"g":-6,"b":190,"t":265},{"x":5295,"n":-15,"g":10,"b":110,"t":330},{"x":5305,"n":-8,"g":2,"b":175,"t":205}
  ]},
  "transform": [
    {"fold": ["n", "g", "b", "t"], "as": ["key", "value"]},
    {"calculate": "{'n': 'no-star', 'g': 'ref2', 'b': 'ref1', 't': 'target'}[datum.key]", "as": "series"}
  ],
  "encoding": {
    "x": {
      "field": "x", "type": "quantitative",
      "scale": {"domain": [-174, 5408], "nice": false, "zero": false},
      "axis": {
        "values": [0, 200, 400, 600, 800, 1000, 1200, 1400, 1600, 1800, 2000, 2200, 2400, 2600, 2800, 3000, 3200, 3400, 3600, 3800, 4000, 4200, 4400, 4600, 4800, 5000, 5200],
        "format": "d",
        "labelExpr": "datum.value % 1000 === 0 ? datum.label : ''",
        "grid": false,
        "tickSize": {"condition": {"test": "datum.value % 1000 === 0", "value": -6}, "value": -3},
        "tickColor": {"condition": {"test": "datum.value % 1000 === 0", "value": "#555"}, "value": "#aaa"},
        "labelPadding": 8
      }
    },
    "y": {
      "field": "value", "type": "quantitative",
      "scale": {"domain": [-80.6, 856.7], "nice": false, "zero": false},
      "axis": {
        "values": [0, 100, 200, 300, 400, 500, 600, 700, 800],
        "format": "d",
        "grid": true,
        "ticks": false,
        "labelPadding": 5,
        "gridColor": "#000",
        "gridOpacity": {"condition": {"test": "datum.value === 0", "value": 0.55}, "value": 0.25},
        "gridWidth": 1.5
      }
    }
  },
  "layer": [
    {"transform": [{"filter": "datum.key === 'g'"}], "mark": {"type": "line", "color": "#d2d2d2", "strokeWidth": 1}},
    {"transform": [{"filter": "datum.key === 'g'"}], "mark": {"type": "circle", "size": 95, "opacity": 1},
     "encoding": {"color": {"field": "series", "type": "nominal", "scale": {"domain": ["no-star", "ref2", "ref1", "target"], "range": ["#cc0000", "#22c32a", "#0a0ab4", "#cbc300"]}}}},
    {"transform": [{"filter": "datum.key === 'n'"}], "mark": {"type": "line", "color": "#e2d2d2", "strokeWidth": 1}},
    {"transform": [{"filter": "datum.key === 'n'"}], "mark": {"type": "circle", "size": 95, "opacity": 1},
     "encoding": {"color": {"field": "series", "type": "nominal"}}},
    {"transform": [{"filter": "datum.key === 'b'"}], "mark": {"type": "line", "color": "#d8d8e6", "strokeWidth": 1.2}},
    {"transform": [{"filter": "datum.key === 'b'"}], "mark": {"type": "circle", "size": 95, "opacity": 1},
     "encoding": {"color": {"field": "series", "type": "nominal"}}},
    {"transform": [{"filter": "datum.key === 't'"}], "mark": {"type": "line", "color": "#c8c8c8", "strokeWidth": 2}},
    {"transform": [{"filter": "datum.key === 't'"}], "mark": {"type": "circle", "size": 95, "opacity": 1},
     "encoding": {"color": {"field": "series", "type": "nominal"}}}
  ],
  "config": {
    "view": {"stroke": null},
    "axis": {
      "title": null,
      "labelFont": "DejaVu Sans",
      "labelFontSize": 11.5,
      "labelColor": "#000",
      "domainColor": "#3a3a3a",
      "domainWidth": 1.5,
      "zindex": 1
    },
    "legend": {
      "orient": "none",
      "legendX": 52,
      "legendY": 51,
      "title": null,
      "padding": 0,
      "symbolType": "circle",
      "symbolSize": 30,
      "symbolStrokeWidth": 0,
      "labelFont": "DejaVu Sans",
      "labelFontSize": 13,
      "labelColor": "#000",
      "labelOffset": 33,
      "rowPadding": 14
    }
  }
}
